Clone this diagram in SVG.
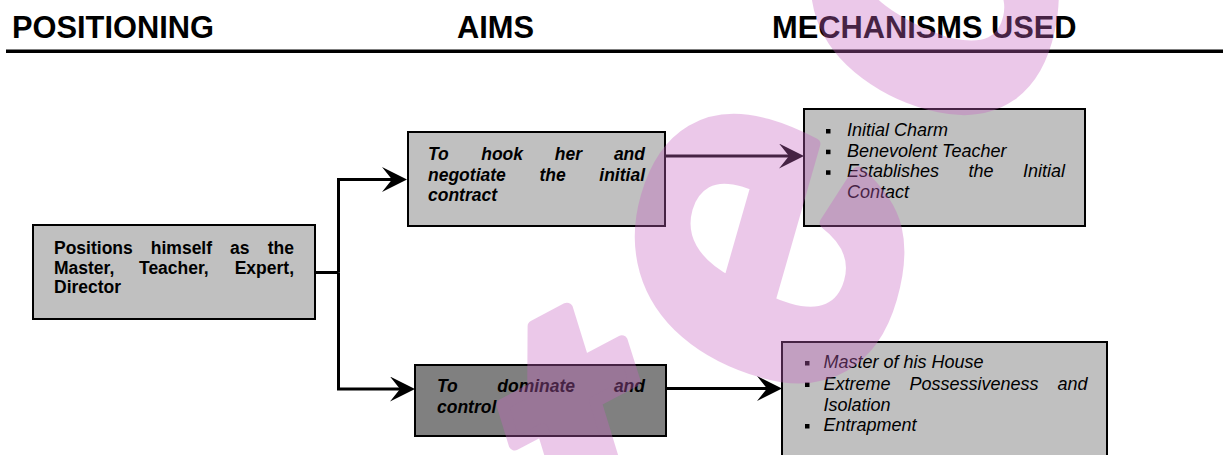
<svg xmlns="http://www.w3.org/2000/svg" width="1223" height="455" viewBox="0 0 1223 455">
<style>
.hdr{font-family:"Liberation Sans",Arial,sans-serif;font-weight:bold;font-size:30.8px;fill:#000}
.box{fill:#c0c0c0;stroke:#000;stroke-width:2}
.dark{fill:#808080;stroke:#000;stroke-width:2}
.b{font-family:"Liberation Sans",Arial,sans-serif;font-weight:bold;font-size:17.5px;fill:#000}
.bi{font-family:"Liberation Sans",Arial,sans-serif;font-weight:bold;font-style:italic;font-size:17.5px;fill:#000}
.i{font-family:"Liberation Sans",Arial,sans-serif;font-style:italic;font-size:18px;fill:#000}
.con{fill:none;stroke:#000;stroke-width:3;stroke-linejoin:miter}
.wm{font-family:"Liberation Sans",Arial,sans-serif;font-weight:bold;font-style:italic;font-size:440px;fill:rgb(200,100,195);stroke:rgb(200,100,195);stroke-width:12;stroke-linejoin:round}
</style>
<defs>
<marker id="ah" markerUnits="userSpaceOnUse" markerWidth="26" markerHeight="26" refX="15" refY="12.5" orient="auto">
<path d="M0,0 L25,12.5 L0,25 L10,12.5 Z" fill="#000"/>
</marker>
</defs>
<rect width="1223" height="455" fill="#fff"/>
<g id="header">
<text class="hdr" x="12" y="37.7">POSITIONING</text>
<text class="hdr" x="457" y="37.7">AIMS</text>
<text class="hdr" x="772" y="37.7">MECHANISMS USED</text>
<rect x="6" y="49.5" width="1217" height="3.5" fill="#000"/>
</g>
<g id="connectors">
<path class="con" d="M315,272.5 H338.5"/>
<path class="con" d="M338.5,272.5 V179.5 H397" marker-end="url(#ah)"/>
<path class="con" d="M338.5,272.5 V389 H405" marker-end="url(#ah)"/>
<path class="con" d="M665,156 H794" marker-end="url(#ah)"/>
<path class="con" d="M666,388.5 H772" marker-end="url(#ah)"/>
</g>
<g id="positioning">
<rect class="box" x="33" y="225" width="282" height="94"/>
<text class="b" y="254"><tspan x="54">Positions</tspan><tspan x="150.8">himself</tspan><tspan x="230.1">as</tspan><tspan x="294" text-anchor="end">the</tspan></text>
<text class="b" y="273.5"><tspan x="54">Master,</tspan><tspan x="139">Teacher,</tspan><tspan x="294" text-anchor="end">Expert,</tspan></text>
<text class="b" x="54" y="293">Director</text>
</g>
<g id="aim-hook">
<rect class="box" x="408" y="132" width="257" height="94"/>
<text class="bi" y="160"><tspan x="428">To</tspan><tspan x="481.2">hook</tspan><tspan x="554.8">her</tspan><tspan x="645" text-anchor="end">and</tspan></text>
<text class="bi" y="180.5"><tspan x="428">negotiate</tspan><tspan x="539.4">the</tspan><tspan x="645" text-anchor="end">initial</tspan></text>
<text class="bi" x="428" y="201">contract</text>
</g>
<g id="aim-dominate">
<rect class="dark" x="415" y="365" width="251" height="71"/>
<text class="bi" y="392"><tspan x="437">To</tspan><tspan x="497.3">dominate</tspan><tspan x="645" text-anchor="end">and</tspan></text>
<text class="bi" x="437" y="413">control</text>
</g>
<g id="mech-initial">
<rect class="box" x="804" y="109" width="281" height="117"/>
<rect x="826" y="129" width="4.5" height="4.5"/>
<rect x="826" y="149.7" width="4.5" height="4.5"/>
<rect x="826" y="170.3" width="4.5" height="4.5"/>
<text class="i" x="847" y="136">Initial Charm</text>
<text class="i" x="847" y="156.7">Benevolent Teacher</text>
<text class="i" y="177.3"><tspan x="847">Establishes</tspan><tspan x="968.5">the</tspan><tspan x="1065" text-anchor="end">Initial</tspan></text>
<text class="i" x="847" y="198">Contact</text>
</g>
<g id="mech-dominate">
<rect class="box" x="782" y="342" width="325" height="130"/>
<rect x="805" y="361" width="4.5" height="4.5"/>
<rect x="805" y="382.5" width="4.5" height="4.5"/>
<rect x="805" y="424" width="4.5" height="4.5"/>
<text class="i" x="823.5" y="368">Master of his House</text>
<text class="i" y="389.5"><tspan x="823.5">Extreme</tspan><tspan x="909.5">Possessiveness</tspan><tspan x="1087.5" text-anchor="end">and</tspan></text>
<text class="i" x="823.5" y="410.5">Isolation</text>
<text class="i" x="823.5" y="431">Entrapment</text>
</g>
<g id="watermark" opacity="0.35">
<text class="wm" text-anchor="middle" transform="translate(653,588) rotate(-28)">t</text>
<text class="wm" text-anchor="middle" transform="translate(890,285) rotate(-74)" style="font-size:480px">e</text>
<text class="wm" text-anchor="middle" transform="translate(1047,18) rotate(-78)">c</text>
</g>
</svg>
